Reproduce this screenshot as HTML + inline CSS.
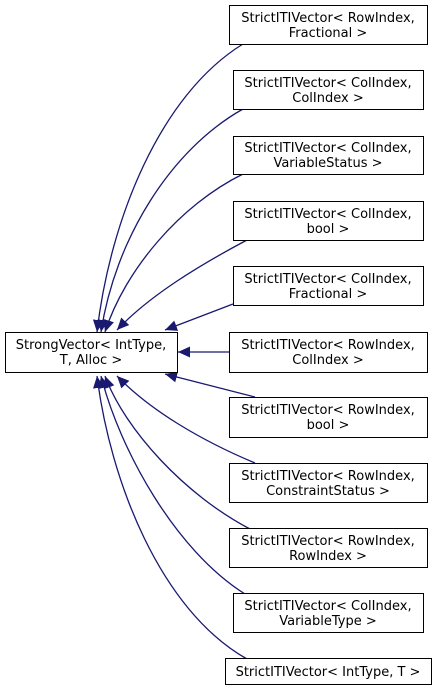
<!DOCTYPE html>
<html><head><meta charset="utf-8"><style>
html,body{margin:0;padding:0;background:#fff;}
svg{display:block;}
text{font-family:"DejaVu Sans","Liberation Sans",sans-serif;font-size:13px;fill:#000;}
</style></head><body>
<svg width="437" height="691" viewBox="0 0 437 691" xmlns="http://www.w3.org/2000/svg">
<defs>
<marker id="a" markerWidth="14" markerHeight="12" refX="12" refY="5.5" orient="auto" markerUnits="userSpaceOnUse">
<path d="M0,0 L12,5.5 L0,11 z" fill="#191970"/>
</marker>
</defs>
<g fill="none" stroke="#191970" stroke-width="1.3" marker-end="url(#a)">
<path d="M243,44 C160,95 110,220 97,332"/>
<path d="M243,109 C170,150 115,240 101,332"/>
<path d="M243,174 C180,205 125,270 105,332"/>
<path d="M247,240 C200,265 150,295 117,330"/>
<path d="M233,304 L165,330"/>
<path d="M229,352 L178,352"/>
<path d="M255,397 L165,374"/>
<path d="M255,463 C200,440 150,410 117,376"/>
<path d="M250,529 C185,495 125,430 105,376"/>
<path d="M245,594 C175,550 120,450 101,376"/>
<path d="M247,659 C160,610 110,480 97,376"/>
</g>
<g fill="#fff" stroke="#000" stroke-width="1">
<rect x="5.5" y="332.5" width="172" height="40"/>
<rect x="229.5" y="5.5" width="198" height="39"/>
<rect x="233.5" y="70.5" width="190" height="39"/>
<rect x="233.5" y="136.5" width="190" height="38"/>
<rect x="233.5" y="201.5" width="190" height="39"/>
<rect x="233.5" y="266.5" width="190" height="39"/>
<rect x="229.5" y="332.5" width="198" height="40"/>
<rect x="229.5" y="397.5" width="198" height="40"/>
<rect x="229.5" y="463.5" width="198" height="39"/>
<rect x="229.5" y="528.5" width="198" height="39"/>
<rect x="233.5" y="593.5" width="190" height="39"/>
<rect x="225.5" y="658.5" width="206" height="26"/>
</g>
<g text-anchor="middle">
<text x="91" y="349">StrongVector&lt; IntType,</text><text x="91" y="364">T, Alloc &gt;</text>
<text x="328" y="22">StrictITIVector&lt; RowIndex,</text><text x="328" y="37">Fractional &gt;</text>
<text x="328" y="87">StrictITIVector&lt; ColIndex,</text><text x="328" y="102">ColIndex &gt;</text>
<text x="328" y="152">StrictITIVector&lt; ColIndex,</text><text x="328" y="167">VariableStatus &gt;</text>
<text x="328" y="218">StrictITIVector&lt; ColIndex,</text><text x="328" y="233">bool &gt;</text>
<text x="328" y="283">StrictITIVector&lt; ColIndex,</text><text x="328" y="298">Fractional &gt;</text>
<text x="328" y="349">StrictITIVector&lt; RowIndex,</text><text x="328" y="364">ColIndex &gt;</text>
<text x="328" y="414">StrictITIVector&lt; RowIndex,</text><text x="328" y="429">bool &gt;</text>
<text x="328" y="480">StrictITIVector&lt; RowIndex,</text><text x="328" y="495">ConstraintStatus &gt;</text>
<text x="328" y="545">StrictITIVector&lt; RowIndex,</text><text x="328" y="560">RowIndex &gt;</text>
<text x="328" y="610">StrictITIVector&lt; ColIndex,</text><text x="328" y="625">VariableType &gt;</text>
<text x="328" y="676">StrictITIVector&lt; IntType, T &gt;</text>
</g>
</svg>
</body></html>
